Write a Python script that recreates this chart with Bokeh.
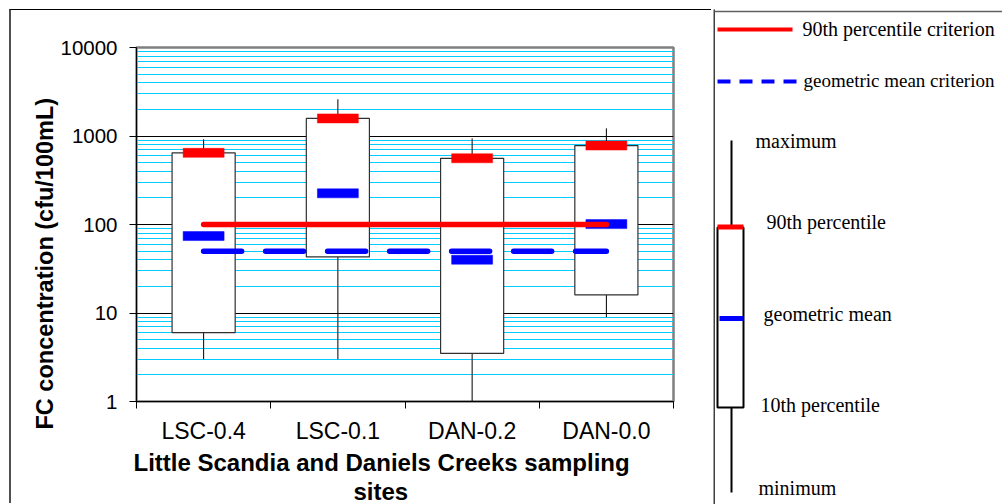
from bokeh.plotting import figure
from bokeh.models import (FactorRange, Range1d, LogTicker, FixedTicker, LinearAxis,
                          CategoricalAxis, Title, NumeralTickFormatter)
from bokeh.embed import file_html
from bokeh.resources import INLINE
from bokeh.core.properties import value

# ---- data ----
sites = ["LSC-0.4", "LSC-0.1", "DAN-0.2", "DAN-0.0"]
minimum = [3, 3, 1, 9]
pct10 = [6, 43, 3.5, 16]
geomean = [74, 225, 40, 101]
pct90 = [645, 1580, 560, 780]
maximum = [920, 2600, 940, 1220]
crit_90th = 100
crit_geomean = 50

y_title = "FC concentration (cfu/100mL)"
x_title = ["Little Scandia and Daniels Creeks sampling", "sites"]
legend_labels = ["90th percentile criterion", "geometric mean criterion"]
box_key_labels = ["maximum", "90th percentile", "geometric mean", "10th percentile", "minimum"]

# ---- main chart ----
p = figure(width=702, height=494, x_range=FactorRange(*sites), y_axis_type="log",
           y_range=Range1d(1, 10000), output_backend="svg", toolbar_location=None,
           x_axis_location=None,
           min_border_left=125, min_border_right=40, min_border_top=37, min_border_bottom=102,
           background_fill_color="white", border_fill_color="white",
           outline_line_color="#808080", outline_line_width=2.5,
           styles={"position": "absolute", "left": "9px", "top": "9px",
                   "border-left": "2px solid #505050", "border-top": "1px solid black"})

p.yaxis.ticker = LogTicker(desired_num_ticks=5, num_minor_ticks=10)
p.yaxis.formatter = NumeralTickFormatter(format="0")
p.yaxis.minor_tick_line_color = None
p.yaxis.major_tick_in = 0
p.yaxis.major_tick_out = 7
p.yaxis.major_label_standoff = 12
p.yaxis.major_label_text_font = "Liberation Sans"
p.yaxis.major_label_text_font_size = "20.5px"
p.yaxis.major_label_text_color = "black"
p.yaxis.axis_line_color = "black"
p.yaxis.major_tick_line_color = "black"

# tick marks at the category boundaries
tick_axis = LinearAxis(ticker=FixedTicker(ticks=[0, 1, 2, 3, 4]),
                       major_tick_in=0, major_tick_out=7, minor_tick_line_color=None,
                       major_label_text_font_size="1px", major_label_text_color=None,
                       major_label_standoff=0,
                       axis_line_color="black", major_tick_line_color="black")
p.add_layout(tick_axis, "below")
cat_axis = CategoricalAxis(major_tick_line_color=None, axis_line_color=None,
                           major_label_standoff=3, major_label_text_font="Liberation Sans",
                           major_label_text_font_size="23px", major_label_text_color="black")
p.add_layout(cat_axis, "below")

p.add_layout(Title(text=x_title[0], align="left", offset=-3, standoff=0,
                   text_font="Liberation Sans", text_font_size="24px",
                   text_font_style="bold", text_color="black"), "below")
p.add_layout(Title(text=x_title[1], align="left", offset=217, standoff=0,
                   text_font="Liberation Sans", text_font_size="24px",
                   text_font_style="bold", text_color="black"), "below")
p.add_layout(Title(text=y_title, align="left", offset=-28, standoff=0,
                   text_font="Liberation Sans", text_font_size="23.5px",
                   text_font_style="bold", text_color="black"), "left")

p.xgrid.grid_line_color = None
p.ygrid.grid_line_color = "black"
p.ygrid.grid_line_width = 1
p.ygrid.minor_grid_line_color = "#00CCFF"
p.ygrid.minor_grid_line_width = 1.2

# whiskers
p.segment(x0=sites, y0=minimum, x1=sites, y1=maximum, line_color="black", line_width=1)
# boxes (10th to 90th percentile)
p.vbar(x=sites, bottom=pct10, top=pct90, width=0.47, fill_color="white",
       line_color="#303030", line_width=1.2)
# 90th percentile marks
p.rect(x=sites, y=pct90, width=0.305, height=9, height_units="screen",
       fill_color="#FF0000", line_color="#FF0000", line_width=0.5)
# geometric mean marks
p.rect(x=sites, y=geomean, width=0.305, height=9, height_units="screen",
       fill_color="#0000FF", line_color="#0000FF", line_width=0.5)

# criteria lines
p.line(x=[sites[0], sites[-1]], y=[crit_90th, crit_90th], line_color="#FF0000",
       line_width=5.5, line_cap="round")
p.line(x=[sites[0], sites[-1]], y=[crit_geomean, crit_geomean], line_color="#0000FF",
       line_width=5.5, line_cap="round", line_dash="38 24")

# ---- legend panel ----
q = figure(width=289, height=504, x_range=Range1d(0, 289), y_range=Range1d(504, 0),
           output_backend="svg", toolbar_location=None, min_border=0,
           x_axis_location=None, y_axis_location=None,
           outline_line_color=None, background_fill_color="white", border_fill_color="white",
           styles={"position": "absolute", "left": "713px", "top": "0px"})
q.grid.visible = False

q.line(x=[0.5, 0.5], y=[9, 504], line_color="black", line_width=1.5)
q.line(x=[1, 289], y=[11, 11], line_color="#606060", line_width=1.5)

q.line(x=[4, 79], y=[29, 29], line_color="#FF0000", line_width=4)
q.line(x=[4, 84], y=[81, 81], line_color="#0000FF", line_width=4, line_dash="13 9")

tf = value("Liberation Serif")
q.text(x=[89], y=[28], text=legend_labels[:1], text_font=tf, text_font_size="20px",
       text_baseline="middle", text_align="left", text_color="black")
q.text(x=[90], y=[80], text=legend_labels[1:], text_font=tf, text_font_size="19px",
       text_baseline="middle", text_align="left", text_color="black")

q.segment(x0=[18], y0=[140], x1=[18], y1=[492], line_color="black", line_width=2)
q.quad(left=[4], right=[30], top=[227], bottom=[407], fill_color="white",
       line_color="black", line_width=2)
q.quad(left=[4], right=[30], top=[224], bottom=[229], fill_color="#FF0000", line_color=None)
q.quad(left=[6], right=[30], top=[315.5], bottom=[320.5], fill_color="#0000FF", line_color=None)

q.text(x=[42, 53, 50, 47, 45], y=[140, 221, 313, 404, 487], text=box_key_labels,
       text_font=tf, text_font_size="20px", text_baseline="middle", text_align="left",
       text_color="black")

open("out.html", "w").write(file_html([p, q], INLINE))
